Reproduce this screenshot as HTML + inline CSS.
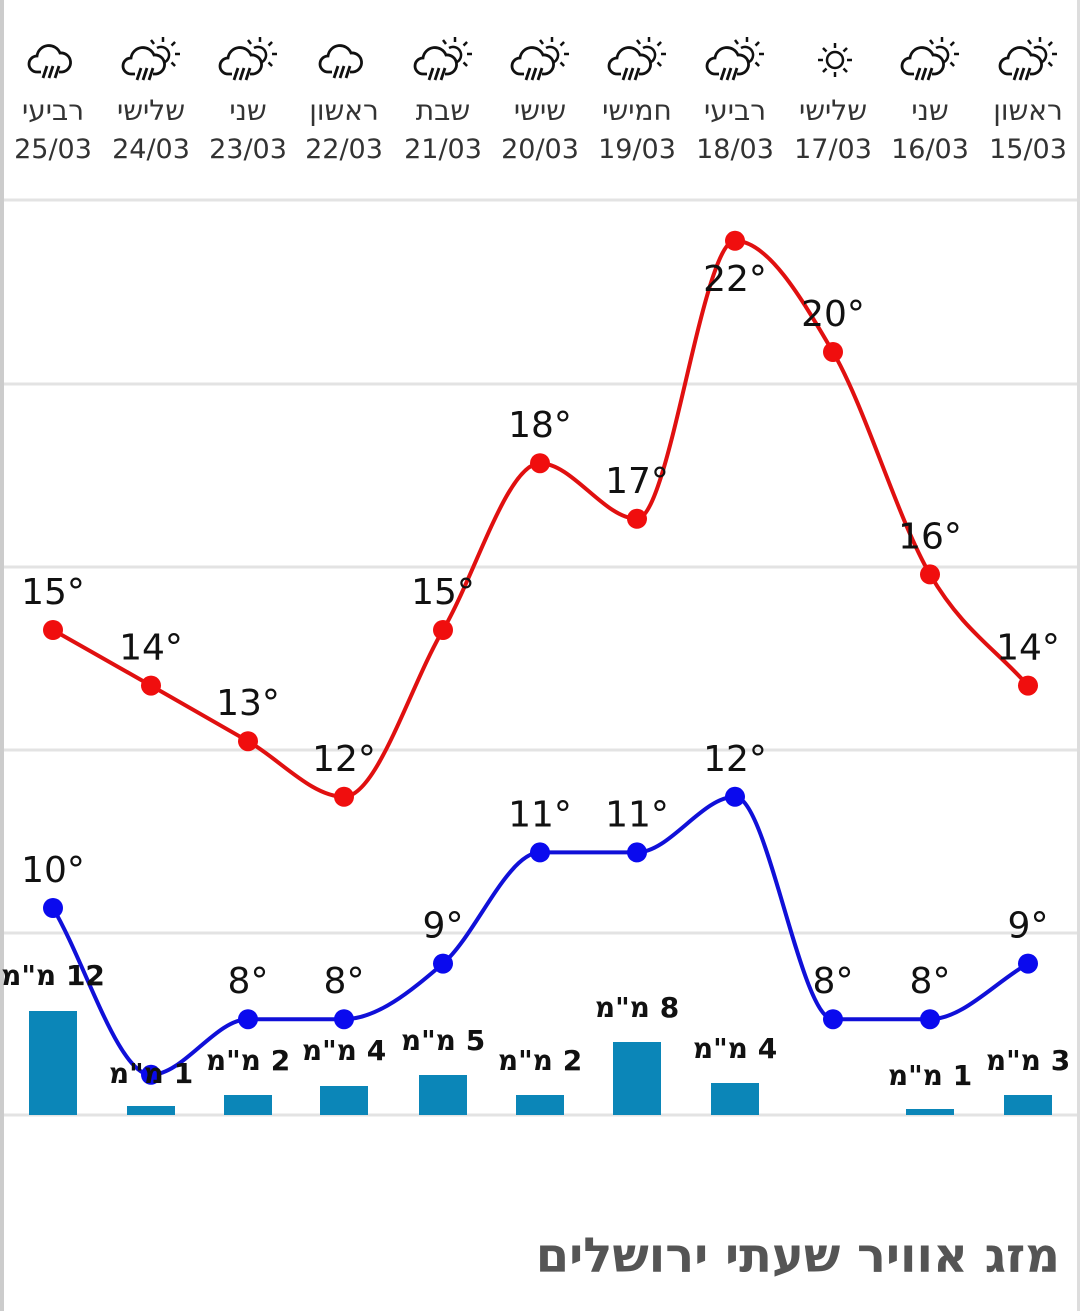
<!DOCTYPE html>
<html><head><meta charset="utf-8"><style>
body{margin:0;background:#fff;}
#w{position:relative;width:1080px;height:1311px;overflow:hidden;background:#fff;font-family:"Liberation Sans","DejaVu Sans",sans-serif;}
.bl{position:absolute;left:0;top:0;width:4px;height:1311px;background:#ccc}
.br{position:absolute;right:0;top:0;width:3px;height:1311px;background:#ddd}
</style></head><body><div id="w"><div class="bl"></div><div class="br"></div>
<svg id="s" width="1080" height="1311" style="position:absolute;left:0;top:0" font-family="DejaVu Sans, Liberation Sans, sans-serif"></svg>
<div style="position:absolute;right:20px;top:1228px;font:bold 48px 'DejaVu Sans','Liberation Sans',sans-serif;color:#555;direction:rtl">מזג אוויר שעתי ירושלים</div>
</div>
<script>
const X=[53,151,248,344,443,540,637,735,833,930,1028];
const days=["רביעי","שלישי","שני","ראשון","שבת","שישי","חמישי","רביעי","שלישי","שני","ראשון"];
const dates=["25/03","24/03","23/03","22/03","21/03","20/03","19/03","18/03","17/03","16/03","15/03"];
const icon=["r","p","p","r","p","p","p","p","s","p","p"];
const hi=[15,14,13,12,15,18,17,22,20,16,14];
const lo=[10,7,8,8,9,11,11,12,8,8,9];
const rain=[12,1,2,4,5,2,8,4,0,1,3];
const rainTop=[1011,1106,1095,1086,1075,1095,1042,1083,1115,1109,1095];
const rainLab=[975,1073,1060,1050,1040,1060,1007,1048,0,1075,1060];
const Y=t=>630-(t-15)*55.6;
let h='';
[200,384,567,750,933,1115].forEach(y=>h+=`<line x1="4" x2="1077" y1="${y}" y2="${y}" stroke="#e3e3e3" stroke-width="3"/>`);
function cloud(cx,cy){return `<path d="M${cx-10},${cy+12} h-4 a8,8 0 0 1 0,-16 a12,12 0 0 1 23,-3 a9,9 0 0 1 2,19 h-3" fill="none" stroke="#111" stroke-width="2.8"/>`+
[-6,0,6].map(d=>`<line x1="${cx+d+2}" y1="${cy+6}" x2="${cx+d-2}" y2="${cy+18}" stroke="#111" stroke-width="2.8"/>`).join('');}
function sunR(cx,cy,r,rl){let s=`<circle cx="${cx}" cy="${cy}" r="${r}" fill="none" stroke="#111" stroke-width="2.5"/>`;for(let i=0;i<8;i++){let a=i*Math.PI/4;s+=`<line x1="${cx+Math.cos(a)*(r+4)}" y1="${cy+Math.sin(a)*(r+4)}" x2="${cx+Math.cos(a)*(r+4+rl)}" y2="${cy+Math.sin(a)*(r+4+rl)}" stroke="#111" stroke-width="2.5"/>`;}return s;}
X.forEach((x,i)=>{
 if(icon[i]=="r")h+=cloud(x-2,60);
 else if(icon[i]=="s")h+=sunR(x+2,60,8,5);
 else{h+=`<path d="M${x+6},${48} a8,8 0 1 1 8,14" fill="none" stroke="#111" stroke-width="2.5"/>`;
  [[-1.57,0],[-0.78,0],[0,0],[0.78,0]].forEach(([a])=>{h+=`<line x1="${x+12+Math.cos(a)*12}" y1="${54+Math.sin(a)*12}" x2="${x+12+Math.cos(a)*17}" y2="${54+Math.sin(a)*17}" stroke="#111" stroke-width="2.5"/>`});
  h+=`<line x1="${x+3}" y1="44" x2="${x}" y2="40" stroke="#111" stroke-width="2.5"/>`;
  h+=cloud(x-6,62);}
 h+=`<text x="${x}" y="120" font-size="28" fill="#333" text-anchor="middle" direction="rtl">${days[i]}</text>`;
 h+=`<text x="${x}" y="158" font-size="27" fill="#333" text-anchor="middle">${dates[i]}</text>`;
 if(rain[i]>0){h+=`<rect x="${x-24}" y="${rainTop[i]}" width="48" height="${1115-rainTop[i]}" fill="#0b86b8"/>`;}
});
function mono(xs,ys){const n=xs.length;let d=[],m=[];for(let i=0;i<n-1;i++)d.push((ys[i+1]-ys[i])/(xs[i+1]-xs[i]));
m[0]=d[0];m[n-1]=d[n-2];for(let i=1;i<n-1;i++)m[i]=(d[i-1]*d[i]<=0)?0:(d[i-1]+d[i])/2;
for(let i=0;i<n-1;i++){if(d[i]==0){m[i]=0;m[i+1]=0;continue;}let a=m[i]/d[i],b=m[i+1]/d[i],s=a*a+b*b;if(s>9){let t=3/Math.sqrt(s);m[i]=t*a*d[i];m[i+1]=t*b*d[i];}}
let p=`M${xs[0]},${ys[0]}`;for(let i=0;i<n-1;i++){let dx=(xs[i+1]-xs[i])/3;p+=` C${xs[i]+dx},${ys[i]+m[i]*dx} ${xs[i+1]-dx},${ys[i+1]-m[i+1]*dx} ${xs[i+1]},${ys[i+1]}`;}return p;}
const hy=hi.map(Y),ly=lo.map(Y);
h+=`<path d="${mono(X,hy)}" fill="none" stroke="#e01010" stroke-width="4"/>`;
h+=`<path d="${mono(X,ly)}" fill="none" stroke="#1010d8" stroke-width="4"/>`;
X.forEach((x,i)=>{h+=`<circle cx="${x}" cy="${hy[i]}" r="10" fill="#f00e0e"/><circle cx="${x}" cy="${ly[i]}" r="10" fill="#0a0aee"/>`;
 let ty=hi[i]==22?hy[i]+50:hy[i]-26;
 h+=`<text x="${x}" y="${ty}" font-size="36" fill="#111" text-anchor="middle">${hi[i]}°</text>`;
 if(i!=1)h+=`<text x="${x}" y="${ly[i]-26}" font-size="36" fill="#111" text-anchor="middle">${lo[i]}°</text>`;
 if(rain[i]>0)h+=`<text x="${x}" y="${rainLab[i]+10}" font-size="28" font-weight="bold" fill="#111" text-anchor="middle" direction="rtl" unicode-bidi="embed">${rain[i]} מ"מ</text>`;
});
document.getElementById('s').innerHTML=h;
</script></body></html>
